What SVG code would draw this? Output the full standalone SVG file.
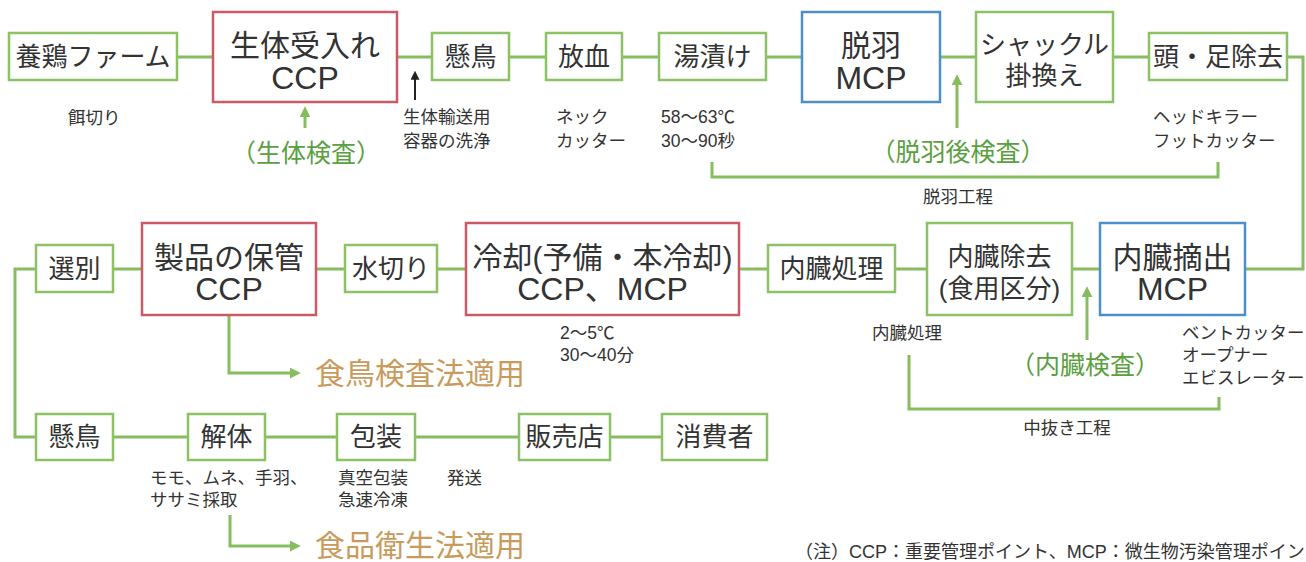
<svg xmlns="http://www.w3.org/2000/svg" width="1306" height="562" viewBox="0 0 1306 562">
<style>
text{font-family:"Liberation Sans","Noto Sans CJK JP",sans-serif;fill:#333;dominant-baseline:central}
.m{font-size:26px;text-anchor:middle}
.b{font-size:30px;text-anchor:middle}
.l{font-size:32px;text-anchor:middle}
.s{font-size:17.5px}
.sc{font-size:17.5px;text-anchor:middle}
.g{font-size:25px;fill:#5a9f40;text-anchor:middle}
.o{font-size:30px;fill:#c89b5c}
.f{font-size:18px}
rect{fill:#fff;stroke-width:2.5}
.bg{stroke:#8cc266}
.br{stroke:#cc5a66}
.bb{stroke:#4f8fc8}
.c{fill:none;stroke:#86bd5e;stroke-width:3}
.k{fill:none;stroke:#222;stroke-width:2}
</style>
<defs>
<marker id="ag" viewBox="0 0 10 10" refX="2" refY="5" markerWidth="11" markerHeight="11" markerUnits="userSpaceOnUse" orient="auto"><path d="M0,0 L10,5 L0,10 z" fill="#86bd5e"/></marker>
<marker id="ak" viewBox="0 0 10 10" refX="2" refY="5" markerWidth="9" markerHeight="9" markerUnits="userSpaceOnUse" orient="auto"><path d="M0,0 L10,5 L0,10 z" fill="#222"/></marker>
</defs>
<g id="connectors">
<path class="c" d="M177,57H213M397,57H432M509,57H546M622,57H659M766,57H802M940,57H976M1113,57H1149M1287,57H1303V269H1245"/>
<path class="c" d="M1072,269H1100M895,269H927M739,269H768M437,269H466M316,269H345M113,269H142M36,269H15V437H36"/>
<path class="c" d="M113,437H188M265,437H337M415,437H519M610,437H662"/>
<path class="c" d="M712,162V177H1218V162M909,355V409H1219V397"/>
<path class="k" d="M415,100V78" marker-end="url(#ak)"/>
<path class="c" d="M305,128V115" marker-end="url(#ag)"/>
<path class="c" d="M957,128V83" marker-end="url(#ag)"/>
<path class="c" d="M1087,340V295" marker-end="url(#ag)"/>
<path class="c" d="M229,315V373H292" marker-end="url(#ag)"/>
<path class="c" d="M230,515V546H292" marker-end="url(#ag)"/>
</g>
<g id="n1"><rect class="bg" x="9" y="33" width="168" height="47"/><text class="m" x="93" y="57">養鶏ファーム</text></g>
<g id="n2"><rect class="br" x="213" y="12" width="184" height="90"/><text class="b" x="305" y="45">生体受入れ</text><text class="l" x="305" y="78">CCP</text></g>
<g id="n3"><rect class="bg" x="432" y="33" width="77" height="47"/><text class="m" x="470.5" y="57">懸鳥</text></g>
<g id="n4"><rect class="bg" x="546" y="33" width="76" height="47"/><text class="m" x="584" y="57">放血</text></g>
<g id="n5"><rect class="bg" x="659" y="33" width="107" height="47"/><text class="m" x="712.5" y="57">湯漬け</text></g>
<g id="n6"><rect class="bb" x="802" y="12" width="138" height="90"/><text class="b" x="871" y="45">脱羽</text><text class="l" x="871" y="78">MCP</text></g>
<g id="n7"><rect class="bg" x="976" y="12" width="137" height="90"/><text class="m" x="1044.5" y="45">シャックル</text><text class="m" x="1044.5" y="76">掛換え</text></g>
<g id="n8"><rect class="bg" x="1149" y="33" width="138" height="47"/><text class="m" x="1218" y="57">頭・足除去</text></g>
<g id="n9"><rect class="bb" x="1100" y="223" width="145" height="92"/><text class="b" x="1172.5" y="257">内臓摘出</text><text class="l" x="1172.5" y="289">MCP</text></g>
<g id="n10"><rect class="bg" x="927" y="223" width="145" height="92"/><text class="m" x="999.5" y="257">内臓除去</text><text class="m" x="999.5" y="289">(食用区分)</text></g>
<g id="n11"><rect class="bg" x="768" y="245" width="127" height="47"/><text class="m" x="831.5" y="268.5">内臓処理</text></g>
<g id="n12"><rect class="br" x="466" y="223" width="273" height="92"/><text class="b" x="602.5" y="257">冷却(予備・本冷却)</text><text class="l" x="602.5" y="289">CCP、MCP</text></g>
<g id="n13"><rect class="bg" x="345" y="245" width="92" height="47"/><text class="m" x="391" y="268.5">水切り</text></g>
<g id="n14"><rect class="br" x="142" y="223" width="174" height="92"/><text class="b" x="229" y="257">製品の保管</text><text class="l" x="229" y="289">CCP</text></g>
<g id="n15"><rect class="bg" x="36" y="245" width="77" height="47"/><text class="m" x="74.5" y="268.5">選別</text></g>
<g id="n16"><rect class="bg" x="36" y="414" width="77" height="46"/><text class="m" x="74.5" y="437">懸鳥</text></g>
<g id="n17"><rect class="bg" x="188" y="414" width="77" height="46"/><text class="m" x="226.5" y="437">解体</text></g>
<g id="n18"><rect class="bg" x="337" y="414" width="78" height="46"/><text class="m" x="376" y="437">包装</text></g>
<g id="n19"><rect class="bg" x="519" y="414" width="91" height="46"/><text class="m" x="564.5" y="437">販売店</text></g>
<g id="n20"><rect class="bg" x="662" y="414" width="105" height="46"/><text class="m" x="714.5" y="437">消費者</text></g>
<g id="labels">
<text class="s" x="68" y="118">餌切り</text>
<text class="s" x="403" y="117">生体輸送用</text>
<text class="s" x="403" y="141">容器の洗浄</text>
<text class="s" x="556" y="117">ネック</text>
<text class="s" x="556" y="141">カッター</text>
<text class="s" x="661" y="117">58～63℃</text>
<text class="s" x="661" y="141">30～90秒</text>
<text class="s" x="1153" y="117">ヘッドキラー</text>
<text class="s" x="1153" y="141">フットカッター</text>
<text class="sc" x="958" y="197">脱羽工程</text>
<text class="g" x="306" y="153">（生体検査）</text>
<text class="g" x="958" y="152">（脱羽後検査）</text>
<text class="g" x="1085" y="365">（内臓検査）</text>
<text class="s" x="560" y="333">2～5℃</text>
<text class="s" x="560" y="355">30～40分</text>
<text class="s" x="872" y="333">内臓処理</text>
<text class="s" x="1182" y="333">ベントカッター</text>
<text class="s" x="1182" y="355">オープナー</text>
<text class="s" x="1182" y="378">エビスレーター</text>
<text class="sc" x="1067" y="428">中抜き工程</text>
<text class="o" x="315" y="373">食鳥検査法適用</text>
<text class="s" x="150" y="478">モモ、ムネ、手羽、</text>
<text class="s" x="150" y="500">ササミ採取</text>
<text class="s" x="338" y="478">真空包装</text>
<text class="s" x="338" y="500">急速冷凍</text>
<text class="s" x="447" y="478">発送</text>
<text class="o" x="315" y="545">食品衛生法適用</text>
<text class="f" x="795" y="552">（注）CCP：重要管理ポイント、MCP：微生物汚染管理ポイン</text>
</g>
</svg>
